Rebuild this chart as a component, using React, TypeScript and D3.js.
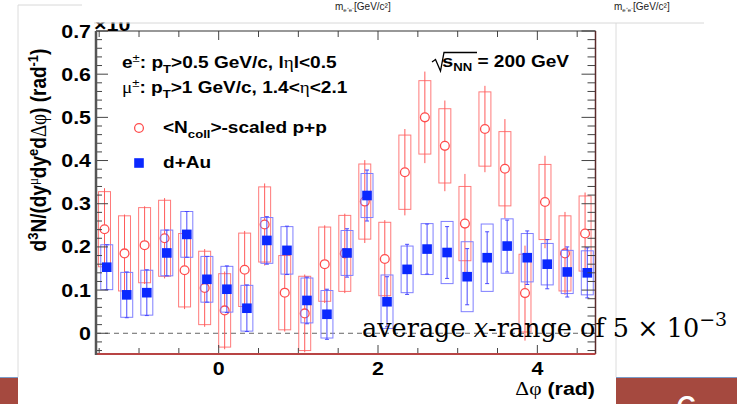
import React from 'react';
import * as d3 from 'd3';

// Δφ bin centres (rad)
const binCenters = [-1.445, -1.194, -0.942, -0.691, -0.440, -0.188, 0.063, 0.314, 0.565, 0.817, 1.068, 1.319, 1.571, 1.822, 2.073, 2.325, 2.576, 2.827, 3.079, 3.330, 3.581, 3.833, 4.084, 4.335, 4.587];

// <Ncoll>-scaled p+p (open red circles)
const ppVal = [0.241, 0.185, 0.204, 0.220, 0.146, 0.105, 0.053, 0.147, 0.252, 0.094, 0.046, 0.160, 0.185, 0.305, 0.172, 0.373, 0.500, 0.434, 0.254, 0.473, 0.381, 0.093, 0.304, 0.185, 0.231];
const ppSys = [0.087, 0.087, 0.087, 0.088, 0.085, 0.085, 0.085, 0.085, 0.087, 0.086, 0.086, 0.086, 0.088, 0.087, 0.085, 0.086, 0.085, 0.086, 0.086, 0.086, 0.086, 0.090, 0.087, 0.087, 0.087];
const ppStat = [0.095, 0.090, 0.090, 0.093, 0.090, 0.090, 0.090, 0.090, 0.095, 0.090, 0.090, 0.090, 0.092, 0.096, 0.090, 0.100, 0.106, 0.105, 0.115, 0.100, 0.115, 0.110, 0.107, 0.096, 0.095];

// d+Au (filled blue squares)
const dAuVal = [0.153, 0.089, 0.094, 0.186, 0.229, 0.125, 0.102, 0.058, 0.215, 0.192, 0.076, 0.044, 0.186, 0.319, 0.073, 0.148, 0.195, 0.187, 0.131, 0.175, 0.202, 0.175, 0.160, 0.142, 0.140];
const dAuSys = [0.052, 0.052, 0.052, 0.053, 0.053, 0.053, 0.053, 0.053, 0.053, 0.055, 0.052, 0.055, 0.052, 0.051, 0.062, 0.054, 0.059, 0.072, 0.081, 0.078, 0.063, 0.056, 0.048, 0.050, 0.051];
const dAuStat = [0.052, 0.053, 0.053, 0.053, 0.053, 0.053, 0.054, 0.054, 0.055, 0.056, 0.054, 0.058, 0.056, 0.059, 0.058, 0.058, 0.058, 0.060, 0.065, 0.060, 0.060, 0.062, 0.057, 0.058, 0.058];

const yTickValues = [0, 0.1, 0.2, 0.3, 0.4, 0.5, 0.6, 0.7];
const yTickLabels = ['0', '0.1', '0.2', '0.3', '0.4', '0.5', '0.6', '0.7'];
const xTickValues = [0, 2, 4];
const xTickLabels = ['0', '2', '4'];

const W = 737;
const H = 404;
const F = { left: 96, right: 595.5, top: 31, bottom: 354 };
const SX = 1.19;
const SANS = 'Liberation Sans, Arial, Helvetica, sans-serif';
const GREEK = 'Liberation Serif, Times New Roman, serif';

const x = d3.scaleLinear().domain([-1.54, 4.73]).range([F.left, F.right]);
const y = d3.scaleLinear().domain([-0.048, 0.7]).range([F.bottom, F.top]);

const RED_OFF = 0.012;
const BLUE_OFF = 0.04;
const BOX_HALF = 0.075;

function ST({ px, py, anchor = 'start', size = 16, weight = 'bold', children }: any) {
  return (
    <g transform={`translate(${px},${py}) scale(${SX},1)`}>
      <text textAnchor={anchor} fontSize={size} fontWeight={weight} fontFamily={SANS} fill="#000">
        {children}
      </text>
    </g>
  );
}

export default function App() {
  const xMinor = d3.range(-1.5, 4.51, 0.5);
  const yMinor = d3.range(-0.04, 0.7001, 0.02);
  const isMajorY = (v: number) => Math.abs(v * 10 - Math.round(v * 10)) < 1e-6;
  const isMajorX = (v: number) => Math.abs(v / 2 - Math.round(v / 2)) < 1e-6;

  return (
    <svg width={W} height={H} style={{ position: 'absolute', left: 0, top: 0, background: '#fff' }}>
      <defs>
        <clipPath id="frameClip">
          <rect x={F.left} y={F.top} width={F.right - F.left} height={F.bottom - F.top} />
        </clipPath>
      </defs>
      <rect x={0} y={0} width={W} height={H} fill="#fff" />

      {/* slide picture borders */}
      <line x1={18} y1={5} x2={82} y2={5} stroke="#d8d8d8" />
      <line x1={18} y1={5} x2={18} y2={377} stroke="#dcdcdc" />
      <line x1={616} y1={23} x2={616} y2={377} stroke="#dcdcdc" />

      {/* data */}
      <g clipPath="url(#frameClip)">
        <line x1={F.left} x2={F.right} y1={y(0)} y2={y(0)} stroke="#666" strokeDasharray="5,4" strokeWidth={1} />
        {binCenters.map((c, i) => {
          const cx = x(c + RED_OFF);
          return (
            <g key={'r' + i}>
              <rect x={x(c + RED_OFF - BOX_HALF)} y={y(ppVal[i] + ppSys[i])} width={x(c + RED_OFF + BOX_HALF) - x(c + RED_OFF - BOX_HALF)} height={y(ppVal[i] - ppSys[i]) - y(ppVal[i] + ppSys[i])} fill="none" stroke="#ff7a7a" strokeWidth={1} />
              <line x1={cx} x2={cx} y1={y(ppVal[i] + ppStat[i])} y2={y(ppVal[i] - ppStat[i])} stroke="#ff5a5a" strokeWidth={1} />
            </g>
          );
        })}
        {binCenters.map((c, i) => (
          <circle key={'rc' + i} cx={x(c + RED_OFF)} cy={y(ppVal[i])} r={4.4} fill="#fff" stroke="#ff4d4d" strokeWidth={1.3} />
        ))}
        {binCenters.map((c, i) => {
          const cx = x(c + BLUE_OFF);
          return (
            <g key={'b' + i}>
              <rect x={x(c + BLUE_OFF - BOX_HALF)} y={y(dAuVal[i] + dAuSys[i])} width={x(c + BLUE_OFF + BOX_HALF) - x(c + BLUE_OFF - BOX_HALF)} height={y(dAuVal[i] - dAuSys[i]) - y(dAuVal[i] + dAuSys[i])} fill="none" stroke="#7f7fff" strokeWidth={1} />
              <line x1={cx} x2={cx} y1={y(dAuVal[i] + dAuStat[i])} y2={y(dAuVal[i] - dAuStat[i])} stroke="#4a4aff" strokeWidth={1} />
              <line x1={cx - 2} x2={cx + 2} y1={y(dAuVal[i] + dAuStat[i])} y2={y(dAuVal[i] + dAuStat[i])} stroke="#4a4aff" strokeWidth={1} />
              <line x1={cx - 2} x2={cx + 2} y1={y(dAuVal[i] - dAuStat[i])} y2={y(dAuVal[i] - dAuStat[i])} stroke="#4a4aff" strokeWidth={1} />
              <rect x={cx - 4.8} y={y(dAuVal[i]) - 4.8} width={9.6} height={9.6} fill="#0a28ff" />
            </g>
          );
        })}
      </g>

      {/* ticks */}
      <g stroke="#444" strokeWidth={1}>
        {yMinor.map((v, i) => {
          const major = isMajorY(v);
          const py = y(v);
          return (
            <g key={'yt' + i}>
              <line x1={F.left} x2={F.left + (major ? 12 : 6)} y1={py} y2={py} />
              <line x1={F.right} x2={F.right - (major ? 14 : 8)} y1={py} y2={py} />
            </g>
          );
        })}
        {xMinor.map((v, i) => {
          const major = isMajorX(v);
          const px = x(v);
          return (
            <g key={'xt' + i}>
              <line x1={px} x2={px} y1={F.bottom} y2={F.bottom - (major ? 9 : 6)} />
              <line x1={px} x2={px} y1={F.top} y2={F.top + (major ? 9 : 6)} />
            </g>
          );
        })}
      </g>

      {/* frame */}
      <line x1={F.left} x2={F.right} y1={F.top} y2={F.top} stroke="#333" strokeWidth={1.2} />
      <line x1={F.right} x2={F.right} y1={F.top} y2={F.bottom} stroke="#5a2a2a" strokeWidth={1.5} />
      <line x1={F.left} x2={F.right} y1={F.bottom} y2={F.bottom} stroke="#b84444" strokeWidth={2} />
      <line x1={F.left} x2={F.left} y1={F.top} y2={F.bottom + 1} stroke="#555" strokeWidth={2.5} />

      {/* tick labels */}
      {yTickValues.map((v, i) => (
        <ST key={'yl' + i} px={91} py={y(v) + 6.5} anchor="end" size={18}>{yTickLabels[i]}</ST>
      ))}
      {xTickValues.map((v, i) => (
        <ST key={'xl' + i} px={x(v)} py={375} anchor="middle" size={18}>{xTickLabels[i]}</ST>
      ))}

      {/* axis titles */}
      <ST px={595} py={395} anchor="end" size={18}>
        <tspan fontFamily={GREEK} fontWeight="normal">Δφ</tspan> (rad)
      </ST>
      <g transform={`translate(46,150) scale(${SX},1) rotate(-90)`}>
        <text textAnchor="middle" fontSize={19} fontWeight="bold" fontFamily={SANS}>
          d<tspan dy={-7} fontSize={13}>3</tspan><tspan dy={7}>N/(dy</tspan>
          <tspan dy={-7} fontSize={13} fontFamily={GREEK} fontWeight="normal">μ</tspan>
          <tspan dy={7}>dy</tspan><tspan dy={-7} fontSize={13}>e</tspan>
          <tspan dy={7}>d</tspan><tspan fontFamily={GREEK} fontWeight="normal">Δφ</tspan>) (rad<tspan dy={-7} fontSize={13}>-1</tspan><tspan dy={7}>)</tspan>
        </text>
      </g>

      {/* legend / labels */}
      <ST px={122} py={68} size={16}>
        e<tspan dy={-6} fontSize={11} fontWeight="normal">±</tspan><tspan dy={6}>: p</tspan><tspan dy={5} fontSize={11}>T</tspan><tspan dy={-5}>&gt;0.5 GeV/c, l</tspan><tspan fontFamily={GREEK} fontWeight="normal">η</tspan>l&lt;0.5
      </ST>
      <ST px={122} py={93} size={16}>
        <tspan fontFamily={GREEK} fontWeight="normal">μ</tspan><tspan dy={-6} fontSize={11} fontWeight="normal">±</tspan><tspan dy={6}>: p</tspan><tspan dy={5} fontSize={11}>T</tspan><tspan dy={-5}>&gt;1 GeV/c, 1.4&lt;</tspan><tspan fontFamily={GREEK} fontWeight="normal">η</tspan>&lt;2.1
      </ST>
      <circle cx={139} cy={128} r={4.4} fill="#fff" stroke="#ff4d4d" strokeWidth={1.3} />
      <ST px={163} py={133} size={16}>
        &lt;N<tspan dy={5} fontSize={11}>coll</tspan><tspan dy={-5}>&gt;-scaled p+p</tspan>
      </ST>
      <rect x={134.2} y={158.2} width={9.6} height={9.6} fill="#0a28ff" />
      <ST px={163} py={168} size={16}>d+Au</ST>

      <path d="M432,62 L435.5,59.5 L440.5,71 L444,52.5 L477,52.5" fill="none" stroke="#000" strokeWidth={1.3} />
      <ST px={442} py={67} size={17}>
        s<tspan dy={4} fontSize={11}>NN</tspan><tspan dy={-4} fontSize={16}> = 200 GeV</tspan>
      </ST>

      {/* exponent of the y axis, partly hidden by the picture above */}
      <ST px={94} py={31} size={18}>×10</ST>

      {/* picture above (covers top) */}
      <rect x={84} y={0} width={640} height={22.5} fill="#fff" />
      <line x1={94} x2={704} y1={23} y2={23} stroke="#d8d8d8" />
      <text x={335} y={10} fontSize={10} fontFamily={SANS} fill="#222">m<tspan dy={2} fontSize={6}>e⁺e⁻</tspan><tspan dy={-2}>[GeV/c²]</tspan></text>
      <text x={614} y={10} fontSize={10} fontFamily={SANS} fill="#222">m<tspan dy={2} fontSize={6}>e⁺e⁻</tspan><tspan dy={-2}>[GeV/c²]</tspan></text>

      {/* slide footer */}
      <rect x={0} y={377} width={18} height={27} fill="#a5493f" />
      <line x1={0} x2={18} y1={377.5} y2={377.5} stroke="#7b9cc8" />
      <rect x={616} y={377} width={121} height={27} fill="#a5493f" />
      <line x1={616} x2={737} y1={377.5} y2={377.5} stroke="#7b9cc8" />
      <text x={686} y={424} fontSize={40} fontFamily={SANS} fill="#fff" textAnchor="middle">6</text>

      {/* overlay annotation */}
      <text x={362} y={337} fontSize={25.5} fontFamily="DejaVu Serif, serif" fill="#000">
        average <tspan fontStyle="italic">x</tspan>-range of 5 × 10<tspan dy={-11} fontSize={19}>−3</tspan>
      </text>
    </svg>
  );
}
